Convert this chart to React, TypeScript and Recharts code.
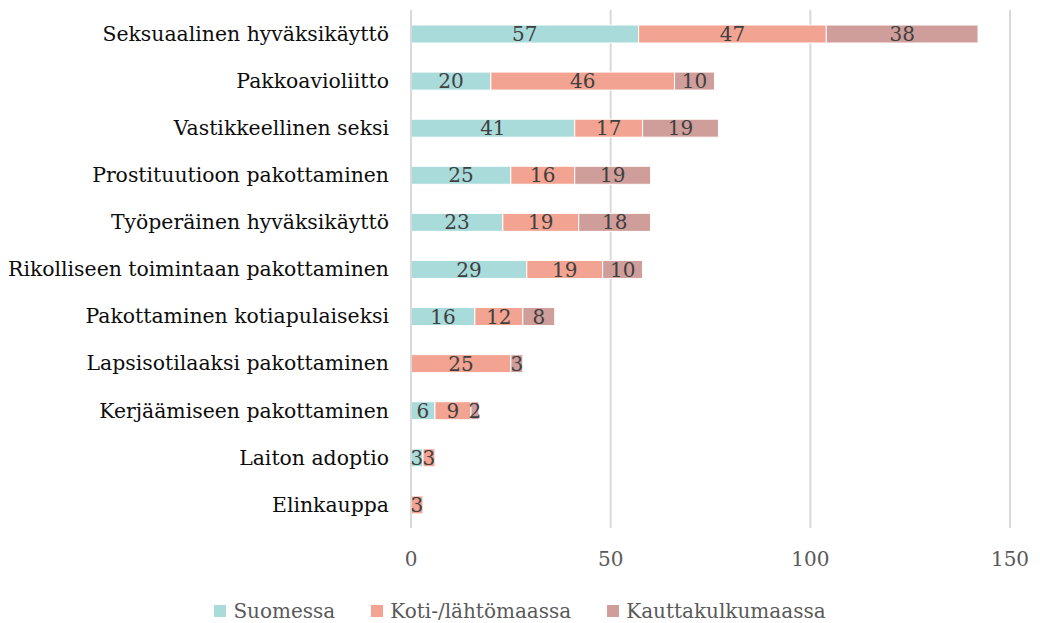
import React from 'react';
import {
  BarChart,
  Bar,
  XAxis,
  YAxis,
  CartesianGrid,
  LabelList,
} from 'recharts';

// categories, top to bottom
const categories = [
  'Seksuaalinen hyväksikäyttö',
  'Pakkoavioliitto',
  'Vastikkeellinen seksi',
  'Prostituutioon pakottaminen',
  'Työperäinen hyväksikäyttö',
  'Rikolliseen toimintaan pakottaminen',
  'Pakottaminen kotiapulaiseksi',
  'Lapsisotilaaksi pakottaminen',
  'Kerjäämiseen pakottaminen',
  'Laiton adoptio',
  'Elinkauppa',
];

const suomessa = [57, 20, 41, 25, 23, 29, 16, 0, 6, 3, 0];
const kotimaassa = [47, 46, 17, 16, 19, 19, 12, 25, 9, 3, 3];
const kauttakulku = [38, 10, 19, 19, 18, 10, 8, 3, 2, 0, 0];

const xTicks = [0, 50, 100, 150];

const series = [
  { key: 'suomessa', name: 'Suomessa', color: '#A9DBDB' },
  { key: 'kotimaassa', name: 'Koti-/lähtömaassa', color: '#F2A391' },
  { key: 'kauttakulku', name: 'Kauttakulkumaassa', color: '#D09E9A' },
];

const data = categories.map((name, i) => ({
  name,
  suomessa: suomessa[i],
  kotimaassa: kotimaassa[i],
  kauttakulku: kauttakulku[i],
}));

const FONT = '"DejaVu Serif", serif';

const hideZero = (v: any) => (v ? v : '');

export default function App() {
  return (
    <div style={{ position: 'relative', width: 1040, height: 623, fontFamily: FONT }}>
      <style>{`body{margin:0}`}</style>
      <BarChart
        width={1040}
        height={623}
        data={data}
        layout="vertical"
        barSize={18}
        margin={{ top: 10, right: 30, bottom: 55, left: 0 }}
      >
        <CartesianGrid horizontal={false} stroke="#d9d9d9" strokeWidth={2} />
        <XAxis
          type="number"
          domain={[0, 150]}
          ticks={xTicks}
          axisLine={false}
          tickLine={false}
          tickMargin={18}
          height={40}
          tick={{ fill: '#595959', fontSize: 20, fontFamily: FONT }}
        />
        <YAxis
          type="category"
          dataKey="name"
          width={411}
          axisLine={{ stroke: '#d9d9d9', strokeWidth: 2 }}
          tickLine={false}
          tickMargin={16}
          interval={0}
          tick={{ fill: '#0d0d0d', fontSize: 20.4, fontFamily: FONT }}
        />
        {series.map((s) => (
          <Bar
            key={s.key}
            dataKey={s.key}
            name={s.name}
            stackId="a"
            fill={s.color}
            stroke="#ffffff"
            strokeWidth={1}
            isAnimationActive={false}
          >
            <LabelList
              dataKey={s.key}
              position="center"
              formatter={hideZero}
              fill="#404040"
              fontSize={20}
              fontFamily={FONT}
            />
          </Bar>
        ))}
      </BarChart>
      <div
        style={{
          position: 'absolute',
          top: 597,
          left: 0,
          width: 1040,
          display: 'flex',
          justifyContent: 'center',
          gap: 36,
          color: '#595959',
          fontSize: 20,
          lineHeight: '28px',
        }}
      >
        {series.map((s) => (
          <div key={s.key} style={{ display: 'flex', alignItems: 'center' }}>
            <span
              style={{
                display: 'inline-block',
                width: 12,
                height: 12,
                background: s.color,
                marginRight: 7,
              }}
            />
            {s.name}
          </div>
        ))}
      </div>
    </div>
  );
}
